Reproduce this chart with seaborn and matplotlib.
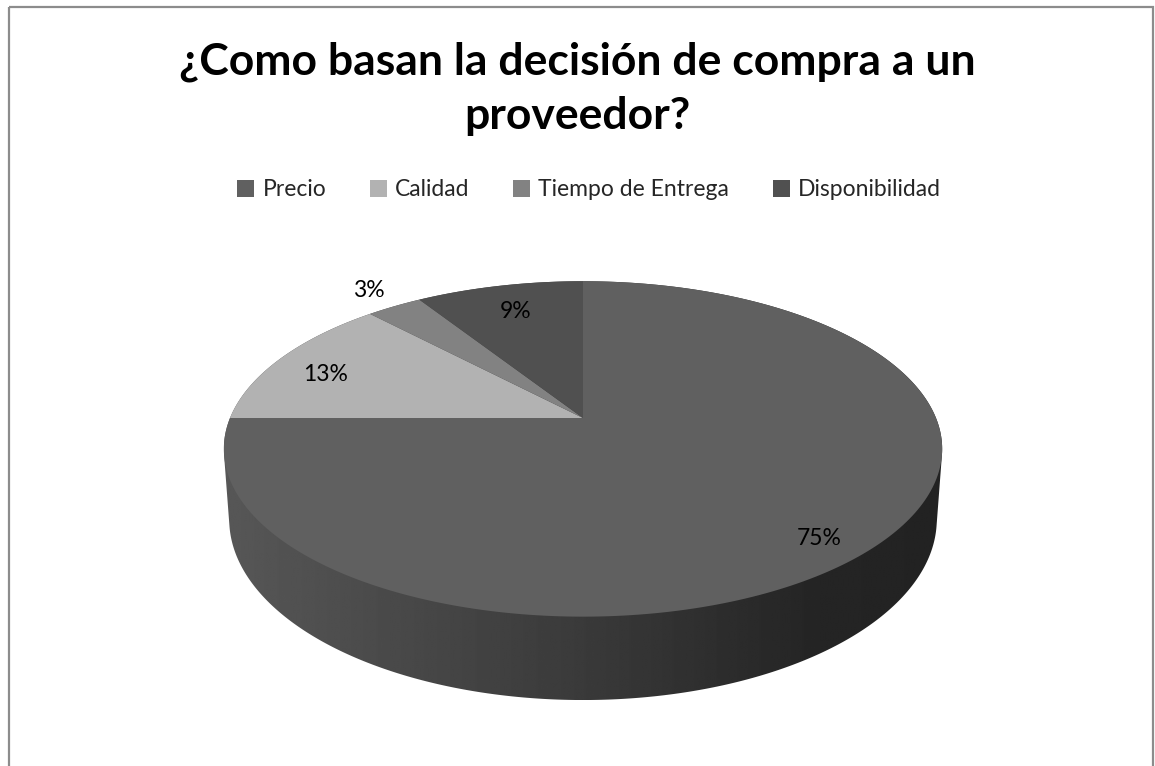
import numpy as np
import matplotlib
matplotlib.use("Agg")
import matplotlib.pyplot as plt
import seaborn as sns
from matplotlib.transforms import Transform, Affine2D
from matplotlib.path import Path
from matplotlib.patches import Polygon, Rectangle

# ---- data ----
categories = ["Precio", "Calidad", "Tiempo de Entrega", "Disponibilidad"]
values = [75, 13, 3, 9]
colors = ["#606060", "#b2b2b2", "#828282", "#505050"]
title_lines = ["¿Como basan la decisión de compra a un", "proveedor?"]

sns.set_theme(style="white")
plt.rcParams["font.family"] = ["Lato", "DejaVu Sans"]

W, H = 1155, 766
fig = plt.figure(figsize=(W / 100, H / 100), dpi=100)
ax = fig.add_axes([0, 0, 1, 1])


class Persp(Transform):
    """Perspective projection of the unit-disc pie onto the page (pixel data coords)."""
    input_dims = 2
    output_dims = 2
    is_separable = False
    has_inverse = False

    def __init__(self, cx, cy, a, b, k, h=0.0, s=1.0):
        super().__init__()
        self.cx, self.cy, self.a, self.b, self.k, self.h, self.s = cx, cy, a, b, k, h, s

    def transform_non_affine(self, xy):
        xy = np.atleast_2d(np.asarray(xy, float))
        u, y = xy[:, 0], xy[:, 1]
        w = 1 + self.k * y
        X = self.cx + self.s * self.a * u / w
        Y = self.cy + (-self.b * y + self.h) / w
        return np.column_stack([X, Y])

    def transform_path_non_affine(self, path):
        sc = 2000.0
        polys = path.to_polygons(transform=Affine2D().scale(sc), closed_only=True)
        verts = np.concatenate(polys) / sc
        return Path(self.transform_non_affine(verts), closed=True)


cx, cy, a, b, k = 583, 418, 353, 162, 0.1845
depth = 68
top = Persp(cx, cy, a, b, k)
bottom = Persp(cx, cy, a, b, k, h=depth, s=0.985)

# ---- pie (top face) ----
wedges, texts, autotexts = ax.pie(values, colors=colors, startangle=90,
                                  counterclock=False, autopct="%1.0f%%",
                                  wedgeprops=dict(linewidth=0))
for w in wedges:
    w.set_transform(top + ax.transData)
    w.set_zorder(3)

# ---- side wall (extruded body) ----
t = np.linspace(0, 2 * np.pi, 721)
circ = np.column_stack([np.cos(t), np.sin(t)])
pts = np.vstack([top.transform(circ), bottom.transform(circ)])


def hull(p):
    p = sorted(map(tuple, p))
    def half(seq):
        out = []
        for q in seq:
            while len(out) >= 2 and ((out[-1][0] - out[-2][0]) * (q[1] - out[-2][1]) -
                                     (out[-1][1] - out[-2][1]) * (q[0] - out[-2][0])) <= 0:
                out.pop()
            out.append(q)
        return out
    lo = half(p)
    hi = half(reversed(p))
    return np.array(lo[:-1] + hi[:-1])


hp = hull(pts)
side = Polygon(hp, closed=True, facecolor="none", edgecolor="none", zorder=2)
ax.add_patch(side)
x0, x1 = hp[:, 0].min(), hp[:, 0].max()
y0, y1 = hp[:, 1].min(), hp[:, 1].max()
xs = np.linspace(x0, x1, 400)
g = np.interp(xs, [x0, cx, cx + 0.65 * a, x1], [0x57, 0x3a, 0x25, 0x22]) / 255.0
img = np.tile(g, (10, 1))
im = ax.imshow(img, cmap="gray", vmin=0, vmax=1, extent=[x0, x1, y1, y0],
               aspect="auto", interpolation="bilinear", zorder=2)
im.set_clip_path(side)

# ---- percentage labels ----
label_r = [0.88, 0.82, 1.16, 0.78]
label_dang = [-3, 3, 0, 0]
for w, txt, r, da in zip(wedges, autotexts, label_r, label_dang):
    mid = np.deg2rad((w.theta1 + w.theta2) / 2 + da)
    px, py = top.transform([[r * np.cos(mid), r * np.sin(mid)]])[0]
    txt.set_position((px, py))
    txt.set_transform(ax.transData)
    txt.set_fontsize(16.5)
    txt.set_color("black")
    txt.set_ha("center")
    txt.set_va("center")
    txt.set_zorder(5)

# ---- title ----
for i, line in enumerate(title_lines):
    ax.text(577, 75 + 54 * i, line, ha="center", va="baseline", fontsize=32,
            fontweight="bold", color="black", zorder=5)

# ---- legend ----
fig.legend(wedges, categories, loc="center", bbox_to_anchor=(589 / W, 1 - 190 / H),
           ncol=4, frameon=False, fontsize=16.5, handlelength=0.75, handleheight=0.75,
           handletextpad=0.35, columnspacing=1.9, borderaxespad=0)

# ---- chart frame ----
ax.add_patch(Rectangle((9, 7), 1144, 800, fill=False, edgecolor="#8c8c8c",
                       linewidth=1.6, zorder=6))

ax.set_xlim(0, W)
ax.set_ylim(H, 0)
ax.set_aspect("auto")
ax.axis("off")
fig.savefig("out.png", dpi=100, facecolor="white")
